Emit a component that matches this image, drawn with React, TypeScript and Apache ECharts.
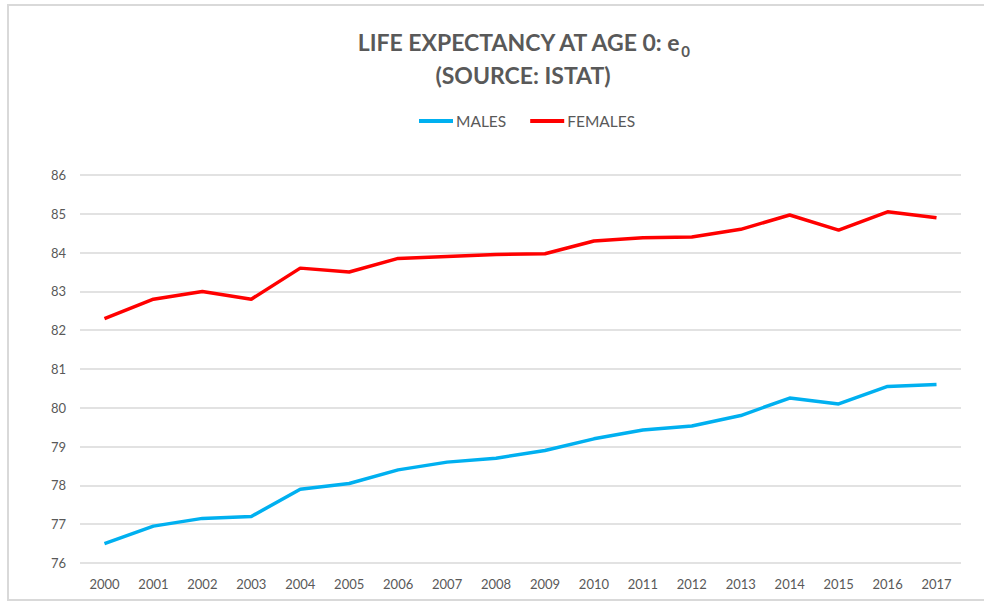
import React, { useEffect, useRef } from "react";
import * as echarts from "echarts";

const years = ["2000","2001","2002","2003","2004","2005","2006","2007","2008","2009","2010","2011","2012","2013","2014","2015","2016","2017"];
const males = [76.5, 76.95, 77.15, 77.2, 77.9, 78.05, 78.4, 78.6, 78.7, 78.9, 79.2, 79.43, 79.53, 79.8, 80.25, 80.1, 80.55, 80.6];
const females = [82.3, 82.8, 83.0, 82.8, 83.6, 83.5, 83.85, 83.9, 83.95, 83.97, 84.3, 84.38, 84.4, 84.6, 84.97, 84.58, 85.05, 84.9];

const FONT = "Lato, 'Open Sans', sans-serif";
const GREY = "#595959";

export default function App() {
  const ref = useRef<HTMLDivElement>(null);
  useEffect(() => {
    if (!ref.current) return;
    const chart = echarts.init(ref.current, undefined, { renderer: "svg" });
    chart.setOption({
      animation: false,
      backgroundColor: "#ffffff",
      textStyle: { fontFamily: FONT },
      title: {
        text: "LIFE EXPECTANCY AT AGE 0: e{sub|0}\n(SOURCE: ISTAT)",
        left: 518,
        top: 20,
        textAlign: "center",
        textStyle: {
          fontFamily: FONT,
          fontSize: 23,
          fontWeight: "bold",
          color: GREY,
          lineHeight: 33,
          rich: {
            sub: {
              fontFamily: FONT,
              fontSize: 15,
              fontWeight: "bold",
              color: GREY,
              verticalAlign: "bottom",
              padding: [11, 0, 0, 0],
            },
          },
        },
      },
      legend: {
        top: 108,
        left: 414,
        itemWidth: 34,
        itemHeight: 4,
        itemGap: 24,
        icon: "rect",
        textStyle: { fontFamily: FONT, fontSize: 15.5, color: GREY, padding: [0, 0, 0, -2] },
        data: ["MALES", "FEMALES"],
      },
      graphic: [
        {
          type: "rect",
          shape: { x: 8, y: 5, width: 1000, height: 595 },
          style: { fill: "none", stroke: "#d9d9d9", lineWidth: 2 },
          silent: true,
          z: -1,
        },
      ],
      grid: { left: 80, right: 23, top: 175, bottom: 38, containLabel: false },
      xAxis: {
        type: "category",
        data: years,
        boundaryGap: true,
        axisLine: { show: false },
        axisTick: { show: false },
        axisLabel: { color: GREY, fontSize: 13, fontFamily: FONT, margin: 14 },
      },
      yAxis: {
        type: "value",
        min: 76,
        max: 86,
        interval: 1,
        axisLine: { show: false },
        axisTick: { show: false },
        axisLabel: { color: GREY, fontSize: 13, fontFamily: FONT, margin: 14 },
        splitLine: { lineStyle: { color: "#d9d9d9", width: 1.5 } },
      },
      series: [
        {
          name: "MALES",
          type: "line",
          data: males,
          symbol: "none",
          color: "#00b0f0",
          lineStyle: { width: 3.5, color: "#00b0f0" },
        },
        {
          name: "FEMALES",
          type: "line",
          data: females,
          symbol: "none",
          color: "#ff0000",
          lineStyle: { width: 3.5, color: "#ff0000" },
        },
      ],
    });
    return () => chart.dispose();
  }, []);
  return (
    <div
      ref={ref}
      style={{ position: "fixed", left: 0, top: 0, width: 984, height: 601 }}
    />
  );
}
